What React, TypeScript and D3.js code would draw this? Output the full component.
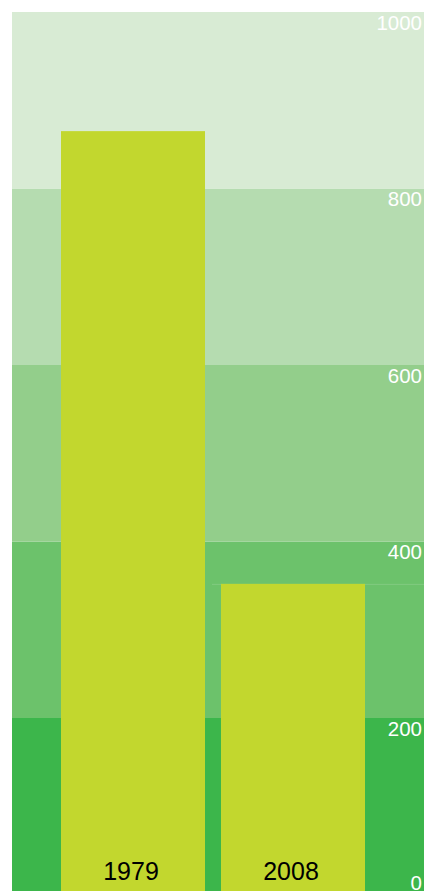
import React, { useEffect, useRef } from "react";
import * as d3 from "d3";

const years = ["1979", "2008"];
const values = [865, 352];
const bandTicks = [0, 200, 400, 600, 800, 1000];
const bandColors = ["#3cb64b", "#6cc26b", "#93ce8b", "#b5dcb0", "#d8ebd4"];

const W = 424;
const H = 891;

const App = () => {
  const svgRef = useRef<SVGSVGElement | null>(null);

  useEffect(() => {
    const svg = d3.select(svgRef.current);
    svg.selectAll("*").remove();

    const y = d3.scaleLinear().domain([0, 1000]).range([894.5, 12]);
    const x = d3
      .scaleBand()
      .domain(years)
      .range([61, 365])
      .paddingInner(0.1)
      .paddingOuter(0);

    // background bands
    svg
      .selectAll(".band")
      .data(bandColors)
      .enter()
      .append("rect")
      .attr("x", 12)
      .attr("y", (d, i) => y(bandTicks[i + 1]))
      .attr("width", W - 12)
      .attr("height", (d, i) => y(bandTicks[i]) - y(bandTicks[i + 1]))
      .attr("fill", (d) => d);

    // faint line at the 2008 value
    svg
      .append("line")
      .attr("x1", 212)
      .attr("x2", W)
      .attr("y1", y(values[1]) + 0.5)
      .attr("y2", y(values[1]) + 0.5)
      .attr("stroke", "#ffffff")
      .attr("stroke-opacity", 0.15);

    // bars
    svg
      .selectAll(".bar")
      .data(years)
      .enter()
      .append("rect")
      .attr("x", (d) => x(d))
      .attr("y", (d, i) => y(values[i]))
      .attr("width", x.bandwidth())
      .attr("height", (d, i) => y(0) - y(values[i]))
      .attr("fill", "#c2d72e");

    // year labels
    svg
      .selectAll(".year")
      .data(years)
      .enter()
      .append("text")
      .attr("x", (d) => x(d) + x.bandwidth() / 2 - 2)
      .attr("y", 880)
      .attr("text-anchor", "middle")
      .style("font-family", "'Liberation Sans', Arial, sans-serif")
      .style("font-size", "25px")
      .style("fill", "#000")
      .text((d) => d);

    // tick labels
    svg
      .selectAll(".tick-label")
      .data(bandTicks)
      .enter()
      .append("text")
      .attr("x", 422)
      .attr("y", (d) => Math.min(y(d) + 17.5, 890))
      .attr("text-anchor", "end")
      .style("font-family", "'Liberation Sans', Arial, sans-serif")
      .style("font-size", "20.5px")
      .style("fill", "#ffffff")
      .text((d) => d);
  }, []);

  return (
    <svg
      ref={svgRef}
      width={W}
      height={H}
      style={{ position: "absolute", left: 0, top: 0, display: "block" }}
    ></svg>
  );
};

export default App;
